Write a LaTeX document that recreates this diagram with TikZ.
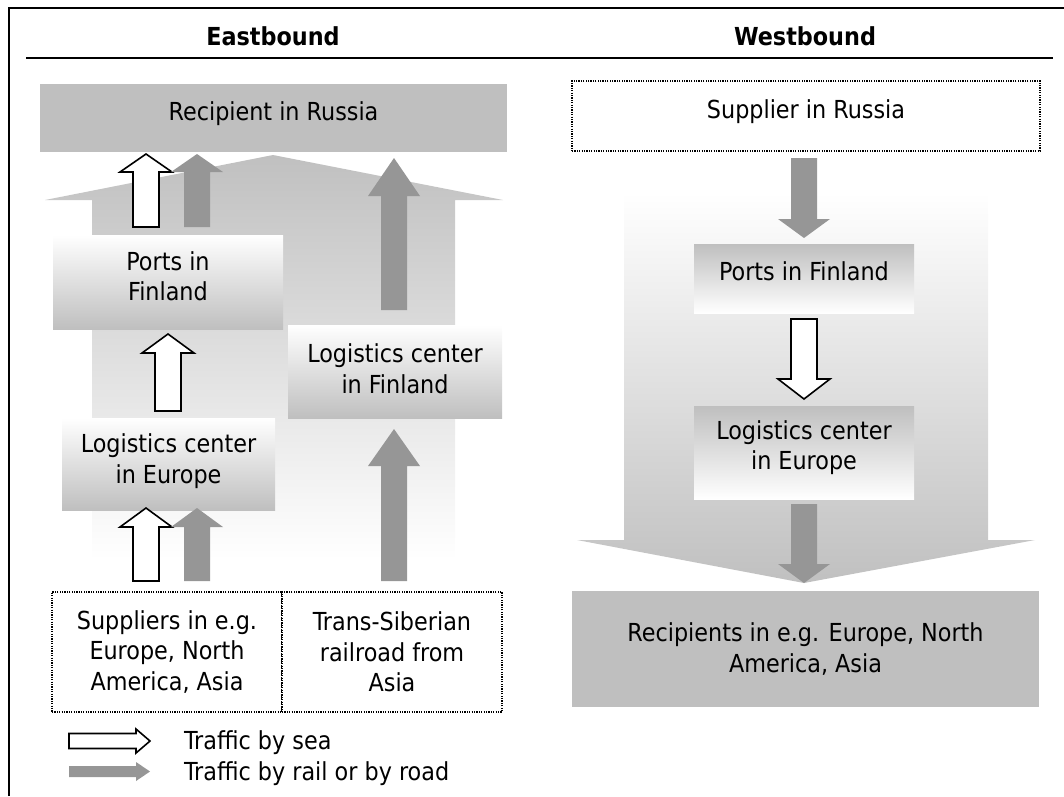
\documentclass[tikz,border=0pt]{standalone}
\usepackage{fontspec}
\setmainfont{DejaVu Sans Condensed}
\definecolor{boxgray}{HTML}{BFBFBF}
\definecolor{arrowgray}{HTML}{969696}
\definecolor{biggray}{HTML}{C0C0C0}
\tikzset{
  txt/.style={font=\fontsize{24.8}{30.5}\selectfont, text=black, align=center, inner sep=0pt},
  heading/.style={font=\bfseries\fontsize{24.8}{30}\selectfont, text=black, inner sep=0pt},
  solidbox/.style={fill=boxgray, inner sep=0pt},
  risebox/.style={top color=white, bottom color=boxgray, inner sep=0pt},
  fallbox/.style={top color=boxgray, bottom color=white, inner sep=0pt},
  dotbox/.style={draw=black, line width=1.2pt, dash pattern=on 1.2pt off 1.2pt, fill=white, inner sep=0pt},
  seaarrow/.style={fill=white, draw=black, line width=1.6pt, line join=miter},
  landarrow/.style={fill=arrowgray},
}
% vertical block arrow: style, x centre, tail y, head base y, tip y
\newcommand\vblock[5]{%
  \path[#1] ({#2-13},#3) -- ({#2-13},#4) -- ({#2-26},#4) -- (#2,#5)
    -- ({#2+26},#4) -- ({#2+13},#4) -- ({#2+13},#3) -- cycle;}
% horizontal block arrow: style, y centre, tail x, head base x, tip x, shaft half, head half
\newcommand\hblock[7]{%
  \path[#1] (#3,{#2-#6}) -- (#4,{#2-#6}) -- (#4,{#2-#7}) -- (#5,#2)
    -- (#4,{#2+#7}) -- (#4,{#2+#6}) -- (#3,{#2+#6}) -- cycle;}
\begin{document}
\begin{tikzpicture}[x=1pt,y=-1pt]
\useasboundingbox (0,0) rectangle (1064,796);

% frame and column headings
\draw[line width=1.8pt] (9,796) -- (9,8) -- (1064,8);
\draw[line width=1.5pt] (26,58) -- (1053,58);
\node[heading] (east) at (273,36) {Eastbound};
\node[heading] (west) at (805,36) {Westbound};

% broad background arrows
\shade[top color=biggray, bottom color=white]
  (92,560) -- (92,200) -- (45,200) -- (273,155) -- (503,200) -- (455,200) -- (455,560) -- cycle;
\shade[top color=white, bottom color=biggray]
  (624,192) -- (988,192) -- (988,540) -- (1035,540) -- (804,583) -- (577,540) -- (624,540) -- cycle;

% eastbound boxes
\node[solidbox, minimum width=467pt, minimum height=68pt] (recipE) at (273.5,118) {};
\node[txt] (recipEt) at ([yshift=4pt]recipE.center) {Recipient in Russia};
\node[risebox, minimum width=230pt, minimum height=94pt] (portsE) at (168,282) {};
\node[txt] (portsEt) at ([yshift=6pt]portsE.center) {Ports in\\Finland};
\node[risebox, minimum width=213pt, minimum height=92pt] (logE) at (168.5,464) {};
\node[txt] (logEt) at ([yshift=3pt]logE.center) {Logistics center\\in Europe};
\node[risebox, minimum width=214pt, minimum height=93pt] (logF) at (395,371.5) {};
\node[txt] (logFt) at ([yshift=3pt]logF.center) {Logistics center\\in Finland};
\node[dotbox, minimum width=230pt, minimum height=120pt] (supE) at (167,652) {};
\node[txt] (supEt) at (supE.center) {Suppliers in e.g.\\Europe, North\\America, Asia};
\node[dotbox, minimum width=220pt, minimum height=120pt] (trans) at (392,652) {};
\node[txt] (transt) at (trans.center) {Trans-Siberian\\railroad from\\Asia};

% westbound boxes
\node[dotbox, minimum width=468pt, minimum height=70pt] (supW) at (806,116) {};
\node[txt] (supWt) at ([yshift=4pt]supW.center) {Supplier in Russia};
\node[fallbox, minimum width=220pt, minimum height=69pt] (portsW) at (804,278.5) {};
\node[txt] (portsWt) at ([yshift=7pt]portsW.center) {Ports in Finland};
\node[fallbox, minimum width=220pt, minimum height=93pt] (logW) at (804,452.5) {};
\node[txt] (logWt) at ([yshift=5pt]logW.center) {Logistics center\\in Europe};
\node[solidbox, minimum width=467pt, minimum height=116pt] (recW) at (805.5,649) {};
\node[txt] (recWt) at (recW.center) {Recipients in e.g. Europe, North\\America, Asia};

% eastbound flows
\vblock{seaarrow}{146}{227}{172}{154}
\vblock{landarrow}{197}{227}{172}{154}
\vblock{landarrow}{394}{310}{196}{158}
\vblock{seaarrow}{168}{411}{353}{334}
\vblock{seaarrow}{146}{581}{527}{508}
\vblock{landarrow}{197}{581}{527}{508}
\vblock{landarrow}{394}{581}{466}{429}

% westbound flows
\vblock{landarrow}{804}{158}{219}{238}
\vblock{seaarrow}{804}{319}{379}{399}
\vblock{landarrow}{804}{504}{564}{583}

% legend
\hblock{seaarrow}{741}{69}{136}{150}{7.5}{12}
\hblock{landarrow}{771.5}{69}{136}{150}{5.5}{9.5}
\node[txt, anchor=base west] (seaLbl) at (184,749) {Traffic by sea};
\node[txt, anchor=base west] (landLbl) at (184,780) {Traffic by rail or by road};
\end{tikzpicture}
\end{document}
